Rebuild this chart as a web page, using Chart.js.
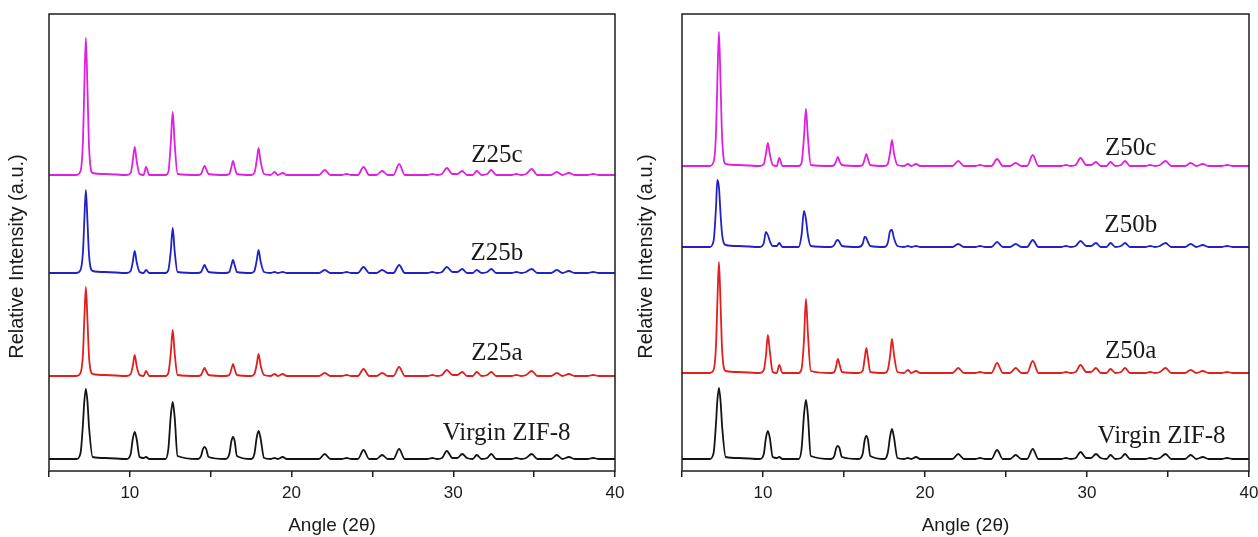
<!DOCTYPE html>
<html>
<head>
<meta charset="utf-8">
<title>XRD patterns</title>
<script src="https://cdn.jsdelivr.net/npm/chart.js@4.4.1/dist/chart.umd.min.js"></script>
<style>
  html, body { margin: 0; padding: 0; background: #fff; overflow: hidden; }
  #wrap { position: relative; width: 1258px; height: 537px; }
  .panel { position: absolute; top: 0; width: 629px; height: 537px; }
</style>
</head>
<body>
<div id="wrap">
  <div class="panel" style="left:0"><canvas id="z25Chart" width="629" height="537"></canvas></div>
  <div class="panel" style="left:629px"><canvas id="z50Chart" width="629" height="537"></canvas></div>
</div>
<script>
// 2-theta sampling positions (deg), shared by every pattern
const twoTheta = [
  5.0, 6.7,
  6.95, 7.1, 7.18, 7.28, 7.38, 7.48, 7.7,
  8.5, 9.8,
  10.05, 10.18, 10.3, 10.42, 10.6,
  10.85, 11.0, 11.2,
  12.2,
  12.38, 12.53, 12.65, 12.77, 12.95,
  14.2,
  14.4, 14.52, 14.62, 14.72, 14.87,
  15.9,
  16.15, 16.28, 16.38, 16.48, 16.62,
  17.5,
  17.7, 17.85, 17.96, 18.08, 18.3,
  18.7, 18.95, 19.15, 19.45, 19.7,
  21.7, 22.05, 22.4,
  23.1, 23.4, 23.7,
  24.1, 24.45, 24.8,
  25.25, 25.6, 25.95,
  26.3, 26.65, 27.0,
  28.4, 28.7, 29.0, 29.3, 29.6, 29.95,
  30.25, 30.55, 30.85,
  31.2, 31.45, 31.75,
  32.1, 32.35, 32.65,
  33.6, 33.9, 34.2, 34.5, 34.85, 35.2,
  36.05, 36.4, 36.75, 37.15, 37.5,
  38.3, 38.65, 39.0, 40.0
];

// intensities (a.u.), one per twoTheta entry
const z25Virgin = [
  0, 0,
  6, 35, 57, 70, 57, 31, 2,
  1, 0,
  5, 20, 27, 20, 2,
  1, 2, 0,
  0,
  10, 43, 57, 42, 3,
  0,
  3, 10, 12, 10, 2,
  0,
  5, 18, 22, 18, 3,
  0,
  5, 22, 28, 21, 1,
  0, 1, 0, 2, 0,
  0, 5, 0,
  0, 1, 0,
  0, 9, 0,
  0, 4, 0,
  0, 10, 0,
  0, 1, 0, 1, 8, 1,
  1, 5, 1,
  0, 4, 0,
  1, 5, 0,
  0, 1, 0, 1, 5, 0,
  0, 4, 0, 2, 0,
  0, 1, 0, 0
];
const z25a = [
  0, 0,
  3, 22, 55, 89, 55, 18, 2,
  1, 0,
  2, 10, 21, 10, 1,
  0, 5, 0,
  0,
  3, 23, 46, 23, 1,
  0,
  1, 5, 8, 5, 1,
  0,
  1, 7, 12, 7, 1,
  0,
  2, 12, 22, 11, 1,
  0, 2, 0, 2, 0,
  0, 3, 0,
  0, 1, 0,
  0, 7, 0,
  0, 3, 0,
  0, 9, 0,
  0, 1, 0, 1, 6, 1,
  1, 4, 0,
  0, 4, 0,
  1, 4, 0,
  0, 1, 0, 1, 5, 0,
  0, 3, 0, 2, 0,
  0, 1, 0, 0
];
const z25b = [
  0, 0,
  3, 21, 51, 83, 51, 17, 2,
  1, 0,
  2, 11, 22, 11, 1,
  0, 3, 0,
  0,
  3, 22, 45, 22, 1,
  0,
  1, 5, 8, 5, 1,
  0,
  1, 8, 13, 8, 1,
  0,
  2, 13, 23, 12, 1,
  0, 1, 0, 1, 0,
  0, 3, 0,
  0, 1, 0,
  0, 6, 0,
  0, 3, 0,
  0, 8, 0,
  0, 1, 0, 1, 6, 1,
  1, 4, 0,
  0, 3, 0,
  1, 4, 0,
  0, 1, 0, 1, 4, 0,
  0, 3, 0, 2, 0,
  0, 1, 0, 0
];
const z25c = [
  0, 0,
  4, 34, 85, 137, 85, 27, 2,
  1, 0,
  2, 14, 28, 14, 1,
  0, 8, 0,
  0,
  3, 32, 63, 32, 1,
  0,
  1, 6, 9, 6, 1,
  0,
  1, 8, 14, 8, 1,
  0,
  2, 15, 27, 14, 1,
  0, 3, 0, 2, 0,
  0, 5, 0,
  0, 1, 0,
  0, 8, 0,
  0, 4, 0,
  0, 11, 0,
  0, 1, 0, 1, 7, 1,
  1, 4, 0,
  0, 4, 0,
  1, 5, 0,
  0, 1, 0, 1, 6, 0,
  0, 3, 0, 2, 0,
  0, 1, 0, 0
];

const z50Virgin = [
  0, 0,
  6, 36, 58, 71, 58, 32, 2,
  1, 0,
  5, 21, 28, 21, 2,
  1, 2, 0,
  0,
  10, 44, 59, 44, 3,
  0,
  3, 11, 13, 11, 2,
  0,
  5, 19, 23, 19, 3,
  0,
  6, 23, 30, 22, 1,
  0, 1, 0, 2, 0,
  0, 5, 0,
  0, 1, 0,
  0, 9, 0,
  0, 4, 0,
  0, 10, 0,
  0, 1, 0, 1, 7, 1,
  1, 5, 1,
  0, 4, 0,
  1, 5, 0,
  0, 1, 0, 1, 5, 0,
  0, 4, 0, 2, 0,
  0, 1, 0, 0
];
const z50a = [
  0, 0,
  3, 28, 69, 111, 69, 22, 2,
  1, 0,
  3, 17, 38, 22, 1,
  0, 8, 0,
  0,
  4, 33, 74, 40, 2,
  0,
  1, 7, 14, 9, 1,
  0,
  2, 15, 25, 15, 1,
  0,
  3, 18, 34, 19, 1,
  0, 3, 0, 2, 0,
  0, 5, 0,
  0, 1, 0,
  0, 10, 0,
  0, 5, 0,
  0, 12, 0,
  0, 1, 0, 1, 8, 1,
  1, 5, 0,
  0, 4, 0,
  1, 5, 0,
  0, 1, 0, 1, 5, 0,
  0, 3, 0, 2, 0,
  0, 1, 0, 0
];
const z50b = [
  0, 0,
  6, 40, 67, 60, 33, 12, 2,
  1, 0,
  4, 15, 12, 6, 1,
  1, 4, 0,
  0,
  12, 36, 28, 12, 1,
  0,
  2, 6, 7, 5, 1,
  0,
  3, 10, 9, 5, 1,
  0,
  4, 16, 17, 9, 1,
  0, 1, 0, 1, 0,
  0, 3, 0,
  0, 1, 0,
  0, 5, 0,
  0, 3, 0,
  0, 7, 0,
  0, 1, 0, 1, 6, 1,
  1, 4, 0,
  0, 4, 0,
  1, 4, 0,
  0, 1, 0, 1, 4, 0,
  0, 3, 0, 2, 0,
  0, 1, 0, 0
];
const z50c = [
  0, 0,
  4, 33, 83, 134, 83, 27, 2,
  1, 0,
  2, 12, 23, 12, 1,
  0, 8, 0,
  0,
  3, 29, 57, 29, 1,
  0,
  1, 5, 9, 5, 1,
  0,
  1, 7, 12, 7, 1,
  0,
  2, 14, 26, 13, 1,
  0, 2, 0, 2, 0,
  0, 5, 0,
  0, 1, 0,
  0, 7, 0,
  0, 3, 0,
  0, 11, 0,
  0, 1, 0, 1, 8, 1,
  1, 4, 0,
  0, 4, 0,
  1, 5, 0,
  0, 1, 0, 1, 5, 0,
  0, 3, 0, 2, 0,
  0, 1, 0, 0
];

const z25Names = ['Virgin ZIF-8', 'Z25a', 'Z25b', 'Z25c'];
const z50Names = ['Virgin ZIF-8', 'Z50a', 'Z50b', 'Z50c'];

// vertical shift applied to each pattern so they stack
const z25Offsets = [12, 95, 198, 296];
const z50Offsets = [12, 98, 224, 305];

const angleTickLabels = [10, 20, 30, 40];

const lineColors = ['#141414', '#e0201e', '#2222c4', '#e020e0'];

// where each sample name sits: [2theta, intensity] at the text baseline
const z25NameAt = [[33.3, 31], [32.7, 111], [32.7, 211], [32.7, 309]];
const z50NameAt = [[34.6, 28], [32.7, 113], [32.7, 239], [32.7, 316]];

const sansFont = '"Liberation Sans", Arial, sans-serif';

function toPoints(values, offset) {
  return twoTheta.map((t, i) => ({ x: t, y: values[i] + offset }));
}

// box frame, sample names and the rotated y title
const panelDecor = {
  id: 'panelDecor',
  afterDatasetsDraw(chart, args, opts) {
    const { ctx, chartArea: a, scales: { x, y } } = chart;
    ctx.save();
    ctx.strokeStyle = '#1e1e1e';
    ctx.lineWidth = 1.5;
    ctx.strokeRect(a.left, a.top, a.right - a.left, a.bottom - a.top);

    ctx.fillStyle = '#1a1a1a';
    ctx.font = '25px "Liberation Serif", "Times New Roman", serif';
    ctx.textAlign = 'center';
    ctx.textBaseline = 'alphabetic';
    opts.names.forEach((name, i) => {
      const [t, v] = opts.nameAt[i];
      ctx.fillText(name, x.getPixelForValue(t), y.getPixelForValue(v));
    });

    ctx.font = '20px ' + sansFont;
    ctx.translate(23, (a.top + a.bottom) / 2 + 14);
    ctx.rotate(-Math.PI / 2);
    ctx.fillText('Relative Intensity (a.u.)', 0, 0);
    ctx.restore();
  }
};

function makePanel(canvasId, series, names, offsets, nameAt, padRight, yWidth) {
  return new Chart(document.getElementById(canvasId), {
    type: 'line',
    data: {
      datasets: series.map((vals, i) => ({
        label: names[i],
        data: toPoints(vals, offsets[i]),
        borderColor: lineColors[i],
        borderWidth: 1.8,
        pointRadius: 0,
        cubicInterpolationMode: 'monotone',
        fill: false
      }))
    },
    options: {
      responsive: false,
      animation: false,
      layout: { padding: { left: 0, right: padRight, top: 14, bottom: 0 } },
      plugins: {
        legend: { display: false },
        tooltip: { enabled: false },
        panelDecor: { names, nameAt }
      },
      scales: {
        x: {
          type: 'linear',
          min: 5,
          max: 40,
          ticks: {
            stepSize: 5,
            autoSkip: false,
            maxRotation: 0,
            padding: 6,
            color: '#1a1a1a',
            font: { family: sansFont, size: 17 },
            callback: v => angleTickLabels.includes(v) ? String(v) : ''
          },
          grid: {
            display: true,
            drawOnChartArea: false,
            drawTicks: true,
            tickLength: 6,
            color: '#1e1e1e',
            lineWidth: 1.5
          },
          border: { display: false },
          title: {
            display: true,
            text: 'Angle (2θ)',
            color: '#1a1a1a',
            font: { family: sansFont, size: 19 },
            padding: { top: 0, bottom: 0 }
          },
          afterFit: s => {
            s.height = 66;
            // edge labels may overhang the plot box
            s.paddingLeft = 0;
            s.paddingRight = 0;
          }
        },
        y: {
          min: 0,
          max: 457,
          ticks: { display: false },
          grid: { display: false },
          border: { display: false },
          afterFit: s => { s.width = yWidth; }
        }
      }
    },
    plugins: [panelDecor]
  });
}

makePanel('z25Chart', [z25Virgin, z25a, z25b, z25c], z25Names, z25Offsets, z25NameAt, 14, 49);
makePanel('z50Chart', [z50Virgin, z50a, z50b, z50c], z50Names, z50Offsets, z50NameAt, 9, 53);
</script>
</body>
</html>
